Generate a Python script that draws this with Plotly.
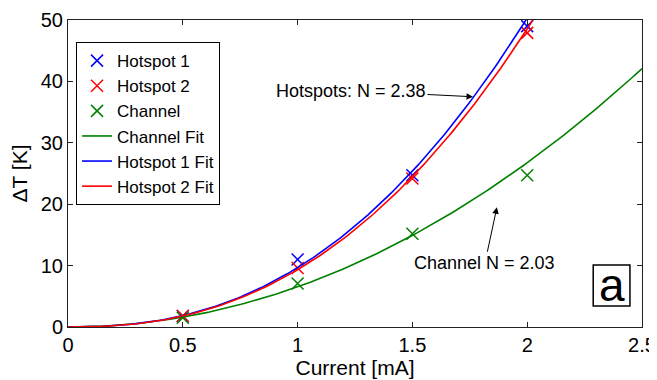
import numpy as np
import plotly.graph_objects as go

# ---- data ----
current = [0.5, 1.0, 1.5, 2.0]
hotspot1 = [1.8, 11.0, 24.7, 49.0]
hotspot2 = [1.8, 9.6, 24.2, 47.9]
channel = [1.5, 7.1, 15.2, 24.7]

# power-law fits  dT = A * I^N
fit_names = ["Channel Fit", "Hotspot 1 Fit", "Hotspot 2 Fit"]
fit_A = [6.55, 9.67, 9.33]
fit_N = [2.03, 2.38, 2.38]
fit_colors = ["#008000", "#0000FF", "#FF0000"]

x_ticks = [0, 0.5, 1, 1.5, 2, 2.5]
x_ticklabels = ["0", "0.5", "1", "1.5", "2", "2.5"]
y_ticks = [0, 10, 20, 30, 40, 50]

FONT = "Arial, Liberation Sans, Helvetica, sans-serif"

fig = go.Figure()

for name, vals, col in [("Hotspot 1", hotspot1, "#0000FF"),
                        ("Hotspot 2", hotspot2, "#FF0000"),
                        ("Channel", channel, "#008000")]:
    fig.add_trace(go.Scatter(
        x=current, y=vals, mode="markers", name=name,
        marker=dict(symbol="x-thin", size=12, color=col,
                    line=dict(width=1.5, color=col))))

xs = np.linspace(0, 2.5, 200)
for name, A, N, col in zip(fit_names, fit_A, fit_N, fit_colors):
    fig.add_trace(go.Scatter(
        x=xs, y=A * xs ** N, mode="lines", name=name,
        line=dict(color=col, width=1.6)))

fig.add_annotation(x=1.764, y=37.5, xref="x", yref="y",
                   text="Hotspots: N = 2.38", showarrow=True,
                   ax=-122, ay=-6, arrowhead=2, arrowsize=1.3, arrowwidth=1,
                   arrowcolor="black", font=dict(family=FONT, size=18, color="black"))
fig.add_annotation(x=1.868, y=19.5, xref="x", yref="y",
                   text="Channel N = 2.03", showarrow=True,
                   ax=-12, ay=56, arrowhead=2, arrowsize=1.3, arrowwidth=1,
                   arrowcolor="black", font=dict(family=FONT, size=18, color="black"))

fig.add_shape(type="rect", xref="paper", yref="paper",
              x0=0.915, x1=0.979, y0=0.068, y1=0.202,
              line=dict(color="black", width=1.5))
fig.add_annotation(x=0.947, y=0.138, xref="paper", yref="paper",
                   xanchor="center", yanchor="middle",
                   text="a", showarrow=False,
                   font=dict(family=FONT, size=46, color="black"))

axis_common = dict(showgrid=False, zeroline=False, showline=True, linecolor="#222",
                   linewidth=1, mirror="ticks", ticks="inside", ticklen=5,
                   tickcolor="#222", automargin=False,
                   tickfont=dict(family=FONT, size=20, color="black"))

# page body has an 8px default margin; figure sized so the plot area
# lands at the reference position inside the 657x380 window
fig.update_layout(
    width=649, height=372,
    margin=dict(l=60, r=15, t=12, b=53),
    paper_bgcolor="white", plot_bgcolor="white",
    xaxis=dict(range=[0, 2.5], tickvals=x_ticks, ticktext=x_ticklabels,
               title=dict(text="Current [mA]", standoff=1,
                          font=dict(family=FONT, size=21, color="black")),
               **axis_common),
    yaxis=dict(range=[0, 50], tickvals=y_ticks,
               title=dict(text="ΔT [K]", standoff=8,
                          font=dict(family=FONT, size=21, color="black")),
               **axis_common),
    legend=dict(x=0.014, y=0.928, xanchor="left", yanchor="top",
                bgcolor="white", bordercolor="black", borderwidth=1,
                font=dict(family=FONT, size=17, color="black"),
                tracegroupgap=0, itemwidth=30),
    showlegend=True,
)

fig.write_html("out.html")
